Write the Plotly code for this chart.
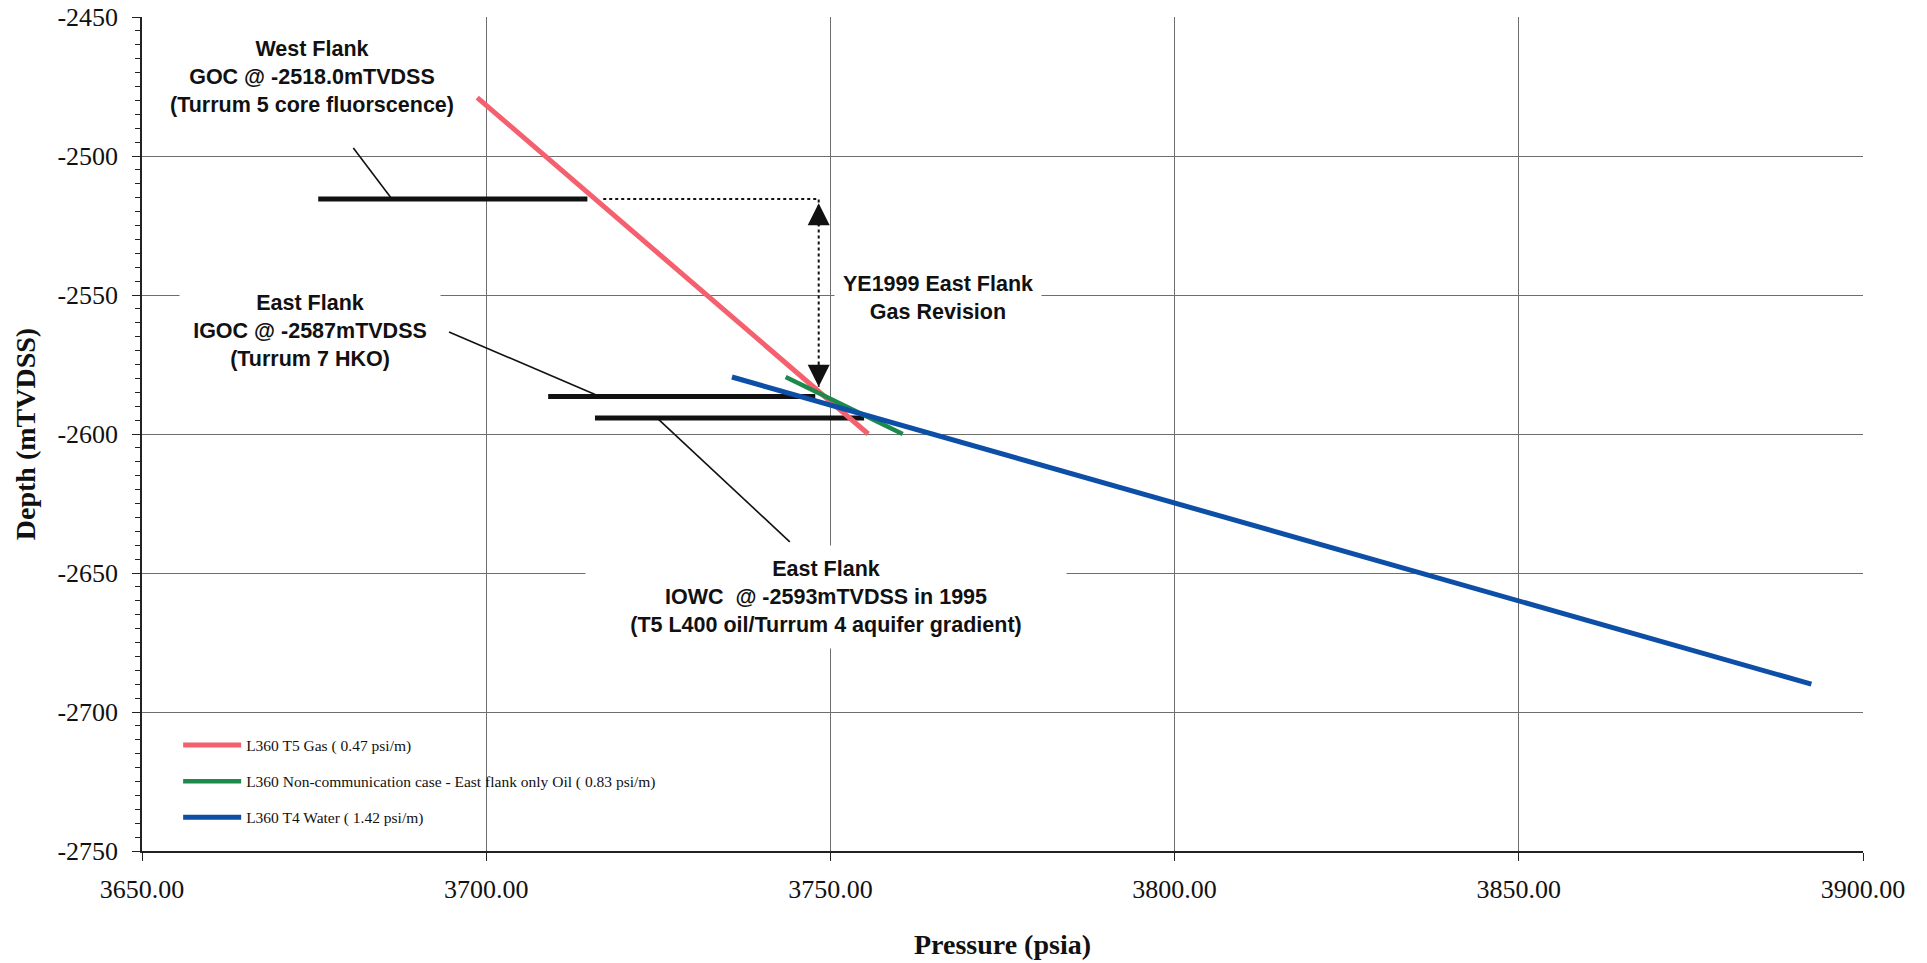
import plotly.graph_objects as go

# ---------------- data (pressure in psia, depth in mTVDSS) ----------------
series_names = [
    "L360 T5 Gas ( 0.47 psi/m)",
    "L360 Non-communication case - East flank only Oil ( 0.83 psi/m)",
    "L360 T4 Water ( 1.42 psi/m)",
]
gas_pressure = [3698.7, 3755.5]
gas_depth = [-2479.0, -2600.0]
oil_pressure = [3743.5, 3760.5]
oil_depth = [-2579.5, -2600.0]
water_pressure = [3735.7, 3892.5]
water_depth = [-2579.5, -2690.0]

# fluid contact bars
goc_pressure = [3675.6, 3714.7]
goc_depth = [-2515.5, -2515.5]
igoc_pressure = [3709.0, 3747.8]
igoc_depth = [-2586.5, -2586.5]
iowc_pressure = [3715.8, 3754.9]
iowc_depth = [-2594.2, -2594.2]

# leader lines from labels to contacts
west_leader_p = [3680.7, 3686.3]
west_leader_d = [-2497.1, -2515.5]
igoc_leader_p = [3694.6, 3716.5]
igoc_leader_d = [-2563.3, -2586.5]
iowc_leader_p = [3724.8, 3744.1]
iowc_leader_d = [-2594.2, -2638.8]

# gas revision arrow (dotted)
rev_p = [3717.0, 3748.3, 3748.3]
rev_d = [-2515.5, -2515.5, -2583.0]
rev_top_d = -2517.0

x_ticks = [3650, 3700, 3750, 3800, 3850, 3900]
x_ticklabels = [f"{v:.2f}" for v in x_ticks]
y_ticks = [-2450, -2500, -2550, -2600, -2650, -2700, -2750]
y_ticklabels = [str(v) for v in y_ticks]

# labels
label_texts = [
    "West Flank<br>GOC @ -2518.0mTVDSS<br>(Turrum 5 core fluorscence)",
    "East Flank<br>IGOC @ -2587mTVDSS<br>(Turrum 7 HKO)",
    "YE1999 East Flank<br>Gas Revision",
    "East Flank<br>IOWC  @ -2593mTVDSS in 1995<br>(T5 L400 oil/Turrum 4 aquifer gradient)",
]
label_p = [3674.7, 3674.4, 3765.7, 3749.4]
label_d = [-2471.6, -2563.0, -2550.9, -2658.6]
label_w = [None, 250, 196, 470]
label_h = [None, None, 58, 92]

# ---------------- styles ----------------
GAS = "#F5606E"
OIL = "#1B8A4B"
WATER = "#0D4FA6"
INK = "#111111"
GRID = "#6E6E6E"
SERIF = "Liberation Serif"
SANS = "Liberation Sans"

fig = go.Figure()

# contact bars and leaders
for p, d, w in [(goc_pressure, goc_depth, 5), (igoc_pressure, igoc_depth, 5),
                (iowc_pressure, iowc_depth, 5),
                (west_leader_p, west_leader_d, 1.6), (igoc_leader_p, igoc_leader_d, 1.6),
                (iowc_leader_p, iowc_leader_d, 1.6)]:
    fig.add_trace(go.Scatter(x=p, y=d, mode="lines", line=dict(color=INK, width=w),
                             showlegend=False, hoverinfo="skip"))

# revision dotted path
fig.add_trace(go.Scatter(x=rev_p, y=rev_d, mode="lines",
                         line=dict(color=INK, width=2, dash="dot"),
                         showlegend=False, hoverinfo="skip"))

# gradient lines
for name, p, d, c, w, g in [
    (series_names[0], gas_pressure, gas_depth, GAS, 5, "g1"),
    (series_names[1], oil_pressure, oil_depth, OIL, 4.5, "g2"),
    (series_names[2], water_pressure, water_depth, WATER, 5, "g3"),
]:
    fig.add_trace(go.Scatter(x=p, y=d, mode="lines", name=name, legendgroup=g,
                             line=dict(color=c, width=w)))

annotations = []
for t, p, d, w, h in zip(label_texts, label_p, label_d, label_w, label_h):
    a = dict(x=p, y=d, xref="x", yref="y", text=t, showarrow=False,
             font=dict(family=SANS, size=21.5, color=INK, weight="bold"),
             align="center", valign="middle", bgcolor="white", borderpad=5)
    if w is not None:
        a["width"] = w
    if h is not None:
        a["height"] = h
    annotations.append(a)

# arrow heads of the revision arrow
annotations.append(dict(x=rev_p[-1], y=rev_d[-1], xref="x", yref="y", ax=0, ay=-24,
                        showarrow=True, arrowhead=2, arrowsize=2.2, arrowwidth=2,
                        arrowcolor=INK, text=""))
annotations.append(dict(x=rev_p[-1], y=rev_top_d, xref="x", yref="y", ax=0, ay=24,
                        showarrow=True, arrowhead=2, arrowsize=2.2, arrowwidth=2,
                        arrowcolor=INK, text=""))

fig.update_layout(
    width=1927, height=963,
    margin=dict(l=142, r=64, t=17, b=112, autoexpand=False),
    paper_bgcolor="white", plot_bgcolor="white",
    annotations=annotations,
    # white panel behind the legend (hides gridlines like the original legend box)
    shapes=[dict(type="rect", xref="paper", yref="paper", x0=0.005, x1=0.43,
                 y0=0.013, y1=0.149, fillcolor="white", line=dict(width=0),
                 layer="between")],
    showlegend=True,
    legend=dict(x=0.021, y=0.147, xanchor="left", yanchor="top",
                bgcolor="rgba(0,0,0,0)", font=dict(family=SERIF, size=15.5, color=INK),
                itemwidth=58, traceorder="grouped", tracegroupgap=13),
    xaxis=dict(range=[3650, 3900], tickvals=x_ticks, ticktext=x_ticklabels,
               automargin=False,
               showgrid=True, gridcolor=GRID, gridwidth=1, zeroline=False,
               showline=True, linecolor="#222222", linewidth=1.5,
               ticks="outside", ticklen=8, tickcolor="#222222",
               tickfont=dict(family=SERIF, size=26, color=INK),
               ticklabelstandoff=6,
               title=dict(text="Pressure (psia)", standoff=31,
                          font=dict(family=SERIF, size=28, color=INK, weight="bold"))),
    yaxis=dict(range=[-2750, -2450], tickvals=y_ticks, ticktext=y_ticklabels,
               automargin=False,
               showgrid=True, gridcolor=GRID, gridwidth=1, zeroline=False,
               showline=True, linecolor="#222222", linewidth=1.5,
               ticks="outside", ticklen=8, tickcolor="#222222",
               minor=dict(dtick=5, ticks="outside", ticklen=5, tickcolor="#222222",
                          showgrid=False),
               tickfont=dict(family=SERIF, size=26, color=INK),
               ticklabelstandoff=9,
               title=dict(text="Depth (mTVDSS)", standoff=14,
                          font=dict(family=SERIF, size=28, color=INK, weight="bold"))),
    yaxis2=dict(range=[-2750, -2450], overlaying="y", anchor="x", side="left",
                automargin=False,
                showgrid=False, zeroline=False, showticklabels=False, ticks="",
                minor=dict(dtick=5, ticks="inside", ticklen=5, tickcolor="#222222",
                           showgrid=False)),
)

fig.write_html("out.html", config={"displayModeBar": False},
               post_script="document.body.style.margin='0px';")
